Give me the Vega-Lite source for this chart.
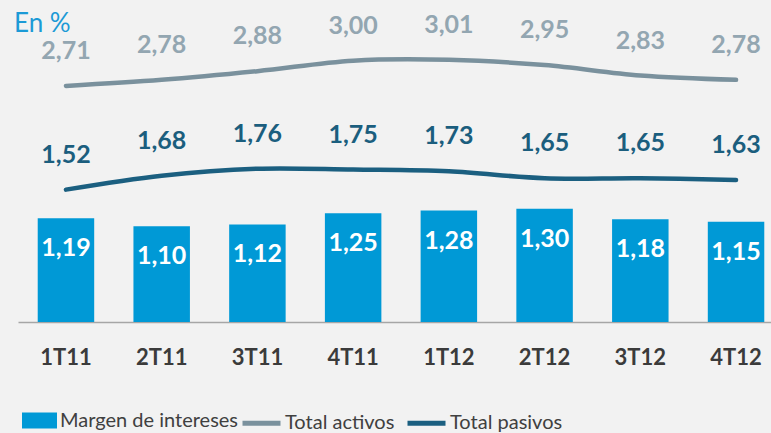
{
  "$schema": "https://vega.github.io/schema/vega-lite/v6.json",
  "width": 766,
  "height": 282,
  "autosize": {"type": "none"},
  "padding": {"left": 18, "top": 40, "right": 0, "bottom": 111},
  "background": "#F2F2F2",
  "config": {
    "view": {"stroke": null},
    "font": "Lato",
    "locale": {"number": {"decimal": ",", "thousands": ".", "grouping": [3], "currency": ["", " €"]}}
  },
  "title": {
    "text": "En %",
    "anchor": "start",
    "frame": "group",
    "orient": "top",
    "offset": 0,
    "dx": -4,
    "dy": 24,
    "fontSize": 26,
    "fontWeight": "normal",
    "font": "Lato",
    "color": "#1B9AD6"
  },
  "data": {
    "values": [
      {"periodo": "1T11", "margen": 1.19, "activos": 2.71, "pasivos": 1.52},
      {"periodo": "2T11", "margen": 1.10, "activos": 2.78, "pasivos": 1.68},
      {"periodo": "3T11", "margen": 1.12, "activos": 2.88, "pasivos": 1.76},
      {"periodo": "4T11", "margen": 1.25, "activos": 3.00, "pasivos": 1.75},
      {"periodo": "1T12", "margen": 1.28, "activos": 3.01, "pasivos": 1.73},
      {"periodo": "2T12", "margen": 1.30, "activos": 2.95, "pasivos": 1.65},
      {"periodo": "3T12", "margen": 1.18, "activos": 2.83, "pasivos": 1.65},
      {"periodo": "4T12", "margen": 1.15, "activos": 2.78, "pasivos": 1.63}
    ]
  },
  "encoding": {
    "x": {
      "field": "periodo",
      "type": "nominal",
      "sort": null,
      "scale": {"paddingInner": 0.41, "paddingOuter": 0.206},
      "axis": {
        "title": null,
        "ticks": false,
        "tickSize": 0,
        "domainColor": "#A6A6A6",
        "domainWidth": 1.5,
        "labelAngle": 0,
        "labelFont": "Lato",
        "labelFontSize": 22,
        "labelFontWeight": "bold",
        "labelColor": "#3B3B3B",
        "labelBaseline": "middle",
        "labelPadding": 35,
        "grid": false
      }
    }
  },
  "layer": [
    {
      "mark": {"type": "bar"},
      "encoding": {
        "y": {"field": "margen", "type": "quantitative", "scale": {"domain": [0, 3.2377], "nice": false, "zero": true}, "axis": null},
        "fill": {
          "datum": "Margen de intereses",
          "scale": {"domain": ["Margen de intereses"], "range": ["#0099D6"]},
          "legend": {
            "title": null,
            "orient": "none",
            "legendX": 4,
            "legendY": 363,
            "padding": 0,
            "symbolType": "M-1,-0.457H1V0.457H-1Z",
            "symbolSize": 1225,
            "symbolStrokeWidth": 0,
            "symbolOpacity": 1,
            "labelOffset": 3,
            "labelFont": "Lato",
            "labelFontSize": 20,
            "labelColor": "#404040",
            "labelLimit": 400
          }
        }
      }
    },
    {
      "mark": {"type": "text", "baseline": "middle", "dy": 30, "font": "Lato", "fontSize": 25, "fontWeight": "bold", "color": "#FFFFFF"},
      "encoding": {
        "y": {"field": "margen", "type": "quantitative"},
        "text": {"field": "margen", "type": "quantitative", "format": ".2f"}
      }
    },
    {
      "mark": {"type": "line", "interpolate": "cardinal", "strokeWidth": 4.5, "strokeCap": "round"},
      "encoding": {
        "y": {"field": "activos", "type": "quantitative"},
        "stroke": {
          "datum": "Total activos",
          "scale": {"domain": ["Total activos", "Total pasivos"], "range": ["#7A919D", "#1B5F80"]},
          "legend": {
            "title": null,
            "orient": "none",
            "direction": "horizontal",
            "legendX": 222,
            "legendY": 361.5,
            "padding": 0,
            "symbolType": "stroke",
            "symbolSize": 1444,
            "symbolStrokeWidth": 5,
            "labelOffset": 2,
            "columnPadding": 2,
            "labelFont": "Lato",
            "labelFontSize": 20,
            "labelColor": "#404040",
            "labelLimit": 400
          }
        }
      }
    },
    {
      "mark": {"type": "text", "baseline": "middle", "dy": -35, "font": "Lato", "fontSize": 25, "fontWeight": "bold", "color": "#93A6B1"},
      "encoding": {
        "y": {"field": "activos", "type": "quantitative"},
        "text": {"field": "activos", "type": "quantitative", "format": ".2f"}
      }
    },
    {
      "mark": {"type": "line", "interpolate": "cardinal", "strokeWidth": 4.5, "strokeCap": "round"},
      "encoding": {
        "y": {"field": "pasivos", "type": "quantitative"},
        "stroke": {"datum": "Total pasivos"}
      }
    },
    {
      "mark": {"type": "text", "baseline": "middle", "dy": -35, "font": "Lato", "fontSize": 25, "fontWeight": "bold", "color": "#1B5E7E"},
      "encoding": {
        "y": {"field": "pasivos", "type": "quantitative"},
        "text": {"field": "pasivos", "type": "quantitative", "format": ".2f"}
      }
    }
  ]
}
